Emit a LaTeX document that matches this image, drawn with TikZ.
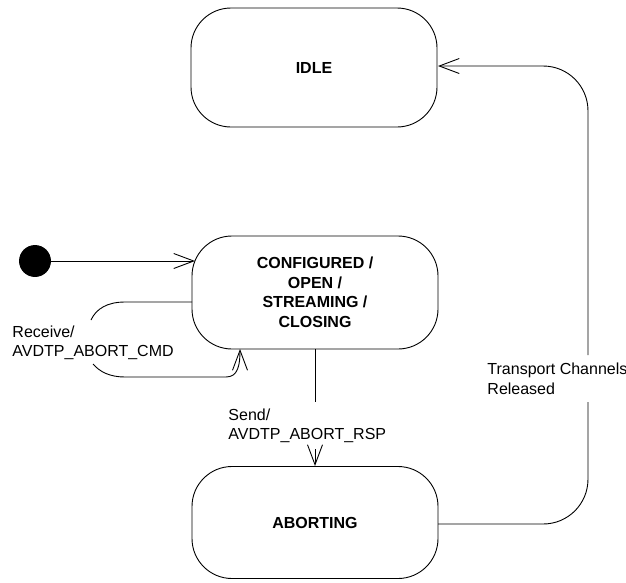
\documentclass[tikz,border=0pt]{standalone}
\usepackage{fontspec}
\setmainfont{Liberation Sans}
\usetikzlibrary{arrows.meta}
\begin{document}
\begin{tikzpicture}[x=1pt,y=-1pt,line width=0.9pt,
  state/.style={draw,rounded corners=40pt,minimum width=246pt,inner sep=0pt,
    font=\fontsize{16}{19.5}\selectfont\bfseries,align=center},
  lbl/.style={inner sep=0pt,align=left,font=\fontsize{16}{19.5}\selectfont},
  open/.style={-{Straight Barb[length=20pt,width=15pt]}}]
\useasboundingbox (0,0) rectangle (626,582);
\node[state,minimum height=119pt] (idle) at (314,67.5) {IDLE};
\node[state,minimum height=113pt] (conf) at (315,292.5) {CONFIGURED /\\OPEN /\\STREAMING /\\CLOSING};
\node[state,minimum height=112pt] (abort) at (315,522.5) {ABORTING};
\node[circle,fill=black,draw=black,minimum size=31pt,inner sep=0pt] (init) at (35,261) {};
% labels
\node[lbl,anchor=west] (lrecv) at (12,343) {Receive/\\AVDTP\_ABORT\_CMD};
\node[lbl,anchor=west] (lsend) at (228,426) {Send/\\AVDTP\_ABORT\_RSP};
\node[lbl,anchor=west] (ltrans) at (487,379) {Transport Channels\\Released};
% coordinates
\coordinate (c1) at (195,261);
\coordinate (r0) at (192,302);
\coordinate (r1) at (91,320);
\coordinate (r2) at (93,364);
\coordinate (r3) at (240,349);
\coordinate (s0) at (315,349);
\coordinate (s1) at (315,402);
\coordinate (s2) at (315,449);
\coordinate (s3) at (315,466);
\coordinate (t0) at (438,524);
\coordinate (t1) at (588,402);
\coordinate (t2) at (588,355);
\coordinate (t3) at (438,66);
% connectors
\draw[open] (init) -- (c1);
\draw (r0) -- (125,302) .. controls (107,302) and (96,309) .. (r1);
\draw[open] (r2) .. controls (100,372) and (110,377) .. (125,377) -- (226,377) .. controls (238,377) and (240,365) .. (r3);
\draw (s0) -- (s1);
\draw[open] (s2) -- (s3);
\draw (t0) -- (543,524) .. controls (568,524) and (588,504) .. (588,479) -- (t1);
\draw[open] (t2) -- (588,111) .. controls (588,86) and (568,66) .. (543,66) -- (t3);
\end{tikzpicture}
\end{document}
